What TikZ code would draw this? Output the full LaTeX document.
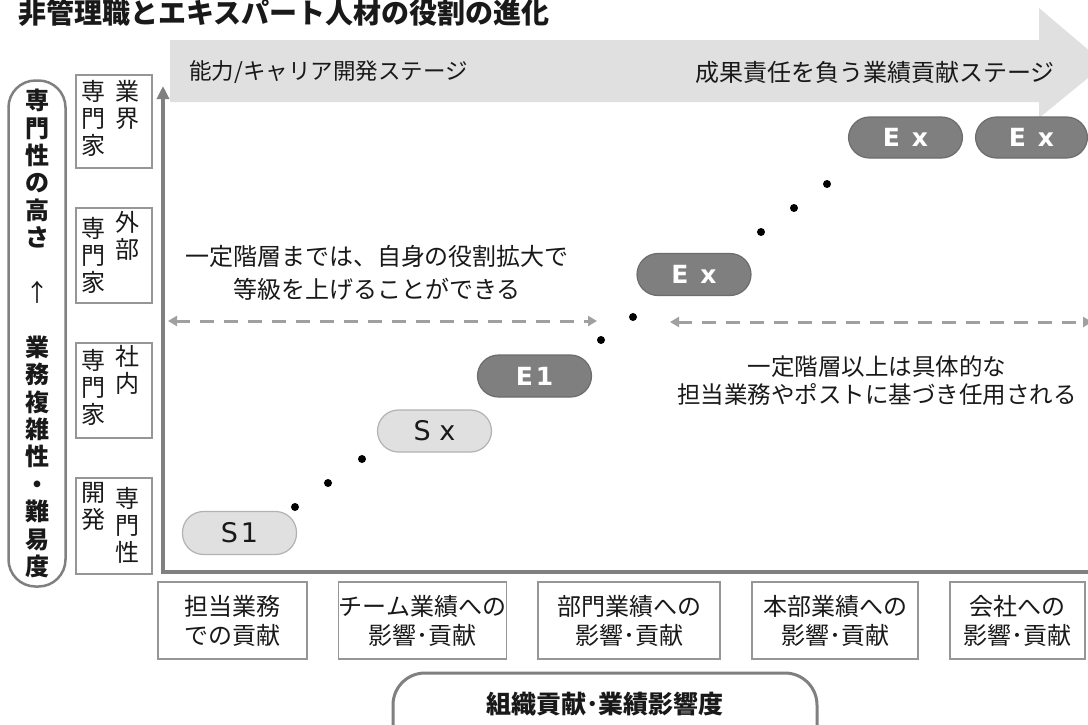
\documentclass[tikz,border=0pt]{standalone}
\usepackage{fontspec}
\setmainfont{Noto Sans CJK JP}
\newfontfamily\lat{DejaVu Sans}
\usetikzlibrary{arrows.meta}
\definecolor{bandgray}{RGB}{224,224,224}
\definecolor{pilllight}{RGB}{224,224,224}
\definecolor{pilllightb}{RGB}{178,178,178}
\definecolor{pilldark}{RGB}{127,127,127}
\definecolor{pilldarkb}{RGB}{108,108,108}
\definecolor{axisgray}{RGB}{128,128,128}
\definecolor{boxgray}{RGB}{150,150,150}
\definecolor{dashgray}{RGB}{160,160,160}
\definecolor{txt}{RGB}{25,25,25}
\begin{document}
\begin{tikzpicture}[x=1pt,y=-1pt,
  lpill/.style={draw=pilllightb, fill=pilllight, line width=1.2pt, rounded corners=21pt,
    minimum width=114pt, minimum height=43pt, inner sep=0pt,
    font=\lat\fontsize{27}{30}\selectfont, text=txt},
  dpill/.style={draw=pilldarkb, fill=pilldark, line width=1.2pt, rounded corners=21pt,
    minimum width=114pt, minimum height=42pt, inner sep=0pt,
    font=\lat\bfseries\fontsize{25}{30}\selectfont, text=white},
  dotn/.style={circle, fill=black, inner sep=0pt, minimum size=8pt},
  sbox/.style={draw=boxgray, line width=1.2pt, minimum width=76pt, inner sep=0pt},
  coltext/.style={font=\fontsize{24}{27}\selectfont, align=center, inner sep=0pt, text=txt, anchor=north},
  bbox/.style={draw=boxgray, line width=1.2pt, inner sep=0pt, align=center,
    minimum height=77pt, font=\fontsize{24}{29}\selectfont, text=txt},
  stagetext/.style={text=txt, inner sep=0pt},
  note/.style={align=center, text=txt, inner sep=0pt},
  axis/.style={draw=axisgray, line width=3.5pt},
  dasharrow/.style={draw=dashgray, line width=3pt, dash pattern=on 14pt off 10pt,
    {Triangle[length=9pt,width=10pt]}-{Triangle[length=9pt,width=10pt]}},
]
\clip (0,0) rectangle (1088,724);
\fill[white] (0,0) rectangle (1088,724);

% title
\node[anchor=west, inner sep=0pt, font=\bfseries\fontsize{28}{30}\selectfont, text=txt] (title) at (18,13) {非管理職とエキスパート人材の役割の進化};

% stage band
\fill[bandgray] (170,40) -- (1039,40) -- (1039,8) -- (1105,64) -- (1039,118) -- (1039,102) -- (170,102) -- cycle;
\node[stagetext, anchor=west, font=\fontsize{22.5}{26}\selectfont] (st1) at (189,72) {能力/キャリア開発ステージ};
\node[stagetext, anchor=east, font=\fontsize{24}{26}\selectfont] (st2) at (1055,72) {成果責任を負う業績貢献ステージ};

% vertical axis label
\node[draw=axisgray, line width=2.5pt, rounded corners=27pt, minimum width=57pt, minimum height=506pt,
  inner sep=0pt, align=center, font=\bfseries\fontsize{24}{27.4}\selectfont, text=txt] (ylab) at (37,333.5)
  {専\\門\\性\\の\\高\\さ\\\mbox{}\\{\mdseries ↑}\\\mbox{}\\業\\務\\複\\雑\\性\\・\\難\\易\\度};

% small boxes
\node[sbox, minimum height=93pt] (b1) at (114,121.5) {};
\node[sbox, minimum height=95pt] (b2) at (114,255.5) {};
\node[sbox, minimum height=95pt] (b3) at (114,390.5) {};
\node[sbox, minimum height=96pt] (b4) at (114,526) {};
\node[coltext] (b1r) at (127.5,80) {業\\界};
\node[coltext] (b1l) at (93.5,80) {専\\門\\家};
\node[coltext] (b2r) at (127.5,211) {外\\部};
\node[coltext] (b2l) at (93.5,217) {専\\門\\家};
\node[coltext] (b3r) at (127.5,345) {社\\内};
\node[coltext] (b3l) at (93.5,349) {専\\門\\家};
\node[coltext] (b4r) at (127.5,487) {専\\門\\性};
\node[coltext] (b4l) at (93.5,482) {開\\発};

% axes
\coordinate (O) at (163,572);
\coordinate (ytop) at (163,86);
\coordinate (xend) at (1092,572);
\draw[axis, line join=miter, {Triangle[length=13pt,width=12pt]}-] (ytop) -- (O) -- (xend);

% dashed ranges
\coordinate (la) at (168,321);
\coordinate (lb) at (597,321);
\coordinate (ra) at (670,322);
\coordinate (rb) at (1092,322);
\draw[dasharrow] (la) -- (lb);
\draw[dasharrow] (ra) -- (rb);

\node[note, font=\fontsize{24}{33}\selectfont] (n1) at (377,273) {一定階層までは、自身の役割拡大で\\等級を上げることができる};
\node[note, font=\fontsize{23.5}{28}\selectfont] (n2) at (877,381) {一定階層以上は具体的な\\担当業務やポストに基づき任用される};

% pills
\node[lpill] (s1) at (239.5,533) {S\hspace{3pt}1};
\node[lpill, minimum height=42pt] (sx) at (434.5,431) {S x};
\node[dpill] (e1) at (534.5,376) {E\hspace{3pt}1};
\node[dpill] (ex1) at (694,274.5) {E\hspace{12pt}x};
\node[dpill, minimum height=41pt] (ex2) at (905.5,137.5) {E\hspace{12pt}x};
\node[dpill, minimum height=41pt, minimum width=112pt] (ex3) at (1031.5,137.5) {E\hspace{12pt}x};

% dots
\foreach \n/\x/\y in {d1/295/507, d2/328/483, d3/362/459, d4/601/340, d5/633/317, d6/761/232, d7/794/208, d8/827/184}
  \node[dotn] (\n) at (\x,\y) {};

% bottom boxes
\node[bbox, minimum width=149pt] (c1) at (232.5,620.5) {担当業務\\での貢献};
\node[bbox, minimum width=167pt] (c2) at (422.5,620.5) {チーム業績への\\影響･貢献};
\node[bbox, minimum width=182pt] (c3) at (629,620.5) {部門業績への\\影響･貢献};
\node[bbox, minimum width=166pt] (c4) at (835,620.5) {本部業績への\\影響･貢献};
\node[bbox, minimum width=135pt] (c5) at (1017.5,620.5) {会社への\\影響･貢献};

% x-axis label
\node[draw=axisgray, line width=3pt, rounded corners=32pt, minimum width=424pt, minimum height=90pt] (xlab) at (605,718) {};
\node[inner sep=0pt, font=\bfseries\fontsize{25}{28}\selectfont, text=txt] (xlabt) at (605,704) {組織貢献･業績影響度};
\end{tikzpicture}
\end{document}
